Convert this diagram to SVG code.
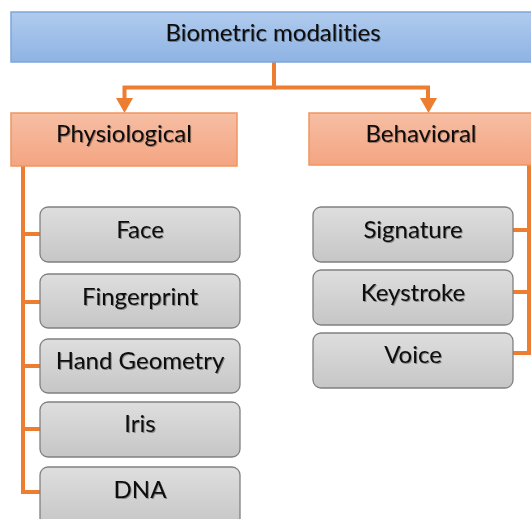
<svg xmlns="http://www.w3.org/2000/svg" width="531" height="519" viewBox="0 0 531 519">
<defs>
<linearGradient id="gBlue" x1="0" y1="0" x2="0" y2="1"><stop offset="0" stop-color="#b0cbee"/><stop offset="1" stop-color="#8eb3e3"/></linearGradient>
<linearGradient id="gOrange" x1="0" y1="0" x2="0" y2="1"><stop offset="0" stop-color="#f6bea3"/><stop offset="1" stop-color="#f4a582"/></linearGradient>
<linearGradient id="gGray" x1="0" y1="0" x2="0" y2="1"><stop offset="0" stop-color="#dedede"/><stop offset="1" stop-color="#c6c6c6"/></linearGradient>
<filter id="ts" x="-10%" y="-30%" width="120%" height="160%"><feDropShadow dx="1" dy="1" stdDeviation="0.6" flood-color="#000" flood-opacity="0.35"/></filter>
</defs>
<style>
.lbl{font-family:Lato,"Open Sans",sans-serif;font-size:24px;fill:#0d0d0d;text-anchor:middle;font-variant-ligatures:none;filter:url(#ts)}
.blue{fill:url(#gBlue);stroke:#7ea6da;stroke-width:1.5}
.orange{fill:url(#gOrange);stroke:#f0955f;stroke-width:1.5}
.gray{fill:url(#gGray);stroke:#808080;stroke-width:1.3}
.con{fill:none;stroke:#ed7d31;stroke-width:4}
</style>
<g id="connectors">
<path class="con" d="M274,62 V87.5 H124.5 V100" />
<path class="con" d="M274,87.5 H428 V100" />
<polygon points="116,98 133,98 124.5,113" fill="#ed7d31"/>
<polygon points="420,98 437,98 428.5,113" fill="#ed7d31"/>
<path class="con" d="M23,166 V492 H40"/>
<path class="con" d="M23,234 H40 M23,302 H40 M23,366 H40 M23,429 H40"/>
<path class="con" d="M529,165 V353 H513 M529,230 H513 M529,292 H513"/>
</g>
<g id="root"><rect class="blue" x="11" y="12" width="530" height="50"/><text class="lbl" x="273" y="41">Biometric modalities</text></g>
<g id="physiological"><rect class="orange" x="11" y="113" width="226" height="53"/><text class="lbl" x="124" y="142">Physiological</text></g>
<g id="behavioral"><rect class="orange" x="309" y="113" width="230" height="52"/><text class="lbl" x="421" y="142">Behavioral</text></g>
<g id="face"><rect class="gray" x="40" y="207" width="200" height="55" rx="8"/><text class="lbl" x="140" y="238">Face</text></g>
<g id="fingerprint"><rect class="gray" x="40" y="274" width="200" height="54" rx="8"/><text class="lbl" x="140" y="305">Fingerprint</text></g>
<g id="hand-geometry"><rect class="gray" x="40" y="339" width="200" height="54" rx="8"/><text class="lbl" x="140" y="369">Hand Geometry</text></g>
<g id="iris"><rect class="gray" x="40" y="402" width="200" height="55" rx="8"/><text class="lbl" x="140" y="432">Iris</text></g>
<g id="dna"><rect class="gray" x="40" y="467" width="200" height="60" rx="8"/><text class="lbl" x="140" y="498">DNA</text></g>
<g id="signature"><rect class="gray" x="313" y="207" width="200" height="55" rx="8"/><text class="lbl" x="413" y="238">Signature</text></g>
<g id="keystroke"><rect class="gray" x="313" y="270" width="200" height="55" rx="8"/><text class="lbl" x="413" y="301">Keystroke</text></g>
<g id="voice"><rect class="gray" x="313" y="333" width="200" height="55" rx="8"/><text class="lbl" x="413" y="363">Voice</text></g>
</svg>
